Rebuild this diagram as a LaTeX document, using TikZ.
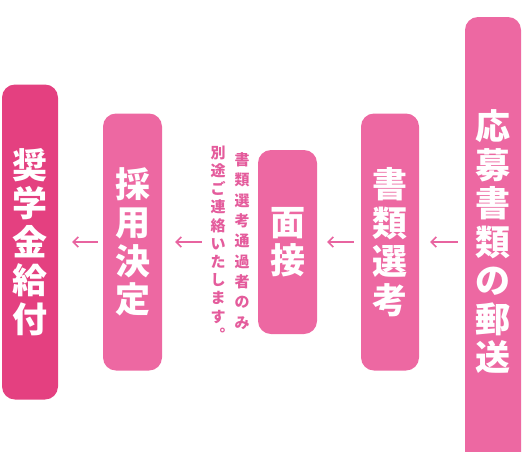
\documentclass[tikz,border=0pt]{standalone}
\usepackage{fontspec}
\newfontfamily\jp{Noto Sans CJK JP}
\usetikzlibrary{arrows.meta}
\definecolor{boxpink}{RGB}{237,104,162}
\definecolor{boxdeep}{RGB}{228,64,128}
\definecolor{notepink}{RGB}{228,92,156}
\definecolor{arrowpink}{RGB}{232,100,160}
\tikzset{
  stepbox/.style={rectangle, rounded corners=13pt, fill=boxpink, text=white,
    inner sep=0pt, align=center, text width=44pt,
    font=\jp\bfseries\fontsize{35}{38.5}\selectfont},
  notetext/.style={text=notepink, inner sep=0pt, align=center, text width=18pt},
  flow/.style={draw=arrowpink, line width=1.6pt, -{Straight Barb[length=5pt,width=10pt]}}
}
\begin{document}
\begin{tikzpicture}[x=1pt,y=-1pt]
\useasboundingbox (0,0) rectangle (527,451);
\begin{scope}
\clip (0,0) rectangle (527,451);
\node[stepbox, minimum width=56pt, minimum height=450pt] (b1) at (493,242)
  {応\\募\\書\\類\\の\\郵\\送};
\end{scope}
\node[stepbox, minimum width=58pt, minimum height=257pt] (b2) at (390,242)
  {書\\類\\選\\考};
\node[stepbox, minimum width=59pt, minimum height=184pt] (b3) at (287.5,242)
  {面\\接};
\node[stepbox, minimum width=59pt, minimum height=257pt] (b4) at (132.5,242)
  {採\\用\\決\\定};
\node[stepbox, fill=boxdeep, minimum width=56pt, minimum height=315pt] (b5) at (30,242)
  {奨\\学\\金\\給\\付};
\node[notetext, font=\jp\bfseries\fontsize{15}{20.3}\selectfont] (n1) at (242,241)
  {書\\類\\選\\考\\通\\過\\者\\の\\み};
\node[notetext, font=\jp\bfseries\fontsize{15}{18.2}\selectfont] (n2) at (218,243)
  {別\\途\\ご\\連\\絡\\い\\た\\し\\ま\\す\\︒};
\draw[flow, shorten <=7pt, shorten >=11pt] (b1.west |- b2.east) -- (b2.east);
\draw[flow, shorten <=7pt, shorten >=10pt] (b2.west) -- (b3.east);
\draw[flow, shorten <=56pt, shorten >=13pt] (b3.west) -- (b4.east);
\draw[flow, shorten <=5pt, shorten >=14pt] (b4.west) -- (b5.east);
\end{tikzpicture}
\end{document}
